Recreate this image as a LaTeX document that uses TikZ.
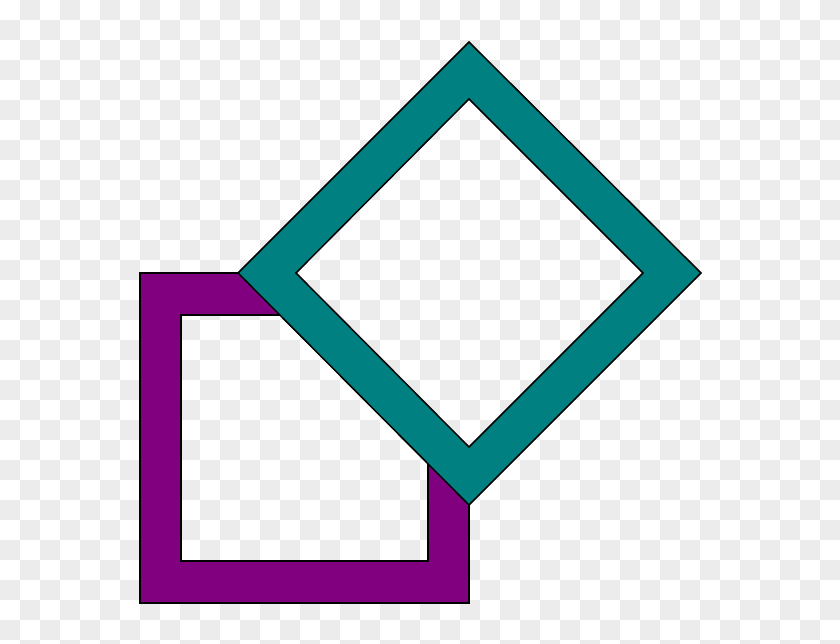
\documentclass[tikz,border=0pt]{standalone}
\definecolor{frameviolet}{HTML}{800080}
\definecolor{frameteal}{HTML}{008080}
\definecolor{checkgray}{HTML}{ECECEC}
\tikzset{
  frameline/.style={draw=black, line width=1.5pt, line join=miter, even odd rule},
}
\newcommand{\mycheckers}{%
  \fill[white] (0,0) rectangle (840,644);
  \foreach \c in {0,...,41}{
    \foreach \r in {0,...,32}{
      \pgfmathtruncatemacro{\myparity}{mod(\c+\r,2)}
      \ifnum\myparity=1
        \fill[checkgray] (\c*20,\r*20) rectangle ++(20,20);
      \fi
    }
  }%
}
\begin{document}
\begin{tikzpicture}[x=1pt,y=-1pt]
  \useasboundingbox (0,0) rectangle (840,644);
  % background checkerboard
  \begin{scope}
    \clip (0,0) rectangle (840,644);
    \mycheckers
  \end{scope}
  % purple square frame
  \path[frameline, fill=frameviolet]
    (140,273) rectangle (469,603)
    (181,315) rectangle (428,561);
  % diamond covers the square
  \begin{scope}
    \clip (469,42) -- (701,273) -- (469,505) -- (238,273) -- cycle;
    \mycheckers
  \end{scope}
  % teal diamond frame
  \path[frameline, fill=frameteal]
    (469,42) -- (701,273) -- (469,505) -- (238,273) -- cycle
    (469,99) -- (643,273) -- (469,447) -- (296,273) -- cycle;
\end{tikzpicture}
\end{document}
